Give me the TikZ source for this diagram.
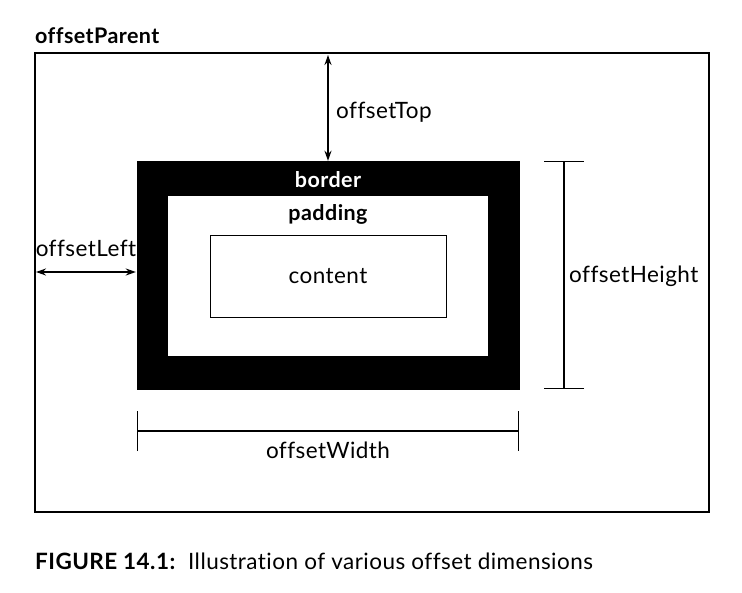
\documentclass[tikz,border=0pt]{standalone}
\usepackage{fontspec}
\setmainfont[Ligatures={NoCommon,NoRare},LetterSpace=2]{Lato}
\usetikzlibrary{arrows.meta}
\begin{document}
\begin{tikzpicture}[x=1pt,y=-1pt,
  txt/.style={inner sep=0pt,font=\fontsize{22.5}{26}\selectfont},
  btxt/.style={inner sep=0pt,font=\fontsize{21.5}{26}\selectfont\bfseries},
  frame/.style={draw,line width=1.3pt,inner sep=0pt,outer sep=0pt},
  dimarrow/.style={line width=1.6pt,{Stealth[length=10pt,width=7pt]}-{Stealth[length=10pt,width=7pt]}},
  dimbar/.style={line width=1.4pt,{Bar[width=40pt]}-{Bar[width=40pt]}}]
\useasboundingbox (0,0) rectangle (742,592);
\node[frame,minimum width=674pt,minimum height=459pt] (parent) at (372,282.5) {};
\node[btxt,anchor=base west] (parentlbl) at (35,43) {offsetParent};
\node[fill=black,draw=black,inner sep=0pt,minimum width=382pt,minimum height=228pt] (border) at (328,275) {};
\node[fill=white,inner sep=0pt,minimum width=320pt,minimum height=160pt] (padding) at (328,276) {};
\node[frame,line width=1pt,minimum width=236pt,minimum height=82pt] (content) at (328,276) {};
\node[btxt,text=white] (borderlbl) at (328,180) {border};
\node[btxt] (paddinglbl) at (328,214) {padding};
\node[txt] (contentlbl) at (328,276) {content};
% offsetTop
\draw[dimarrow] (border.north |- parent.north) ++(0,2) coordinate (tt) -- (border.north);
\node[txt,anchor=west] (toplbl) at (336,112) {offsetTop};
% offsetLeft
\coordinate (ly) at (0,272);
\draw[dimarrow] ([xshift=1pt]parent.west |- ly) -- ([xshift=-1pt]border.west |- ly);
\node[txt] (leftlbl) at (86,248) {offsetLeft};
% offsetHeight
\coordinate (hx) at (564,0);
\draw[dimbar] (hx |- border.north) -- (hx |- border.south);
\node[txt,anchor=west] (heightlbl) at (569,276) {offsetHeight};
% offsetWidth
\coordinate (wy) at (0,431);
\draw[dimbar] (border.west |- wy) -- (border.east |- wy);
\node[txt] (widthlbl) at (328,450) {offsetWidth};
% caption
\node[anchor=base west,inner sep=0pt,font=\fontsize{22.5}{26}\selectfont] (caption) at (35,569) {\textbf{FIGURE 14.1:}\ \ Illustration of various offset dimensions};
\end{tikzpicture}
\end{document}
